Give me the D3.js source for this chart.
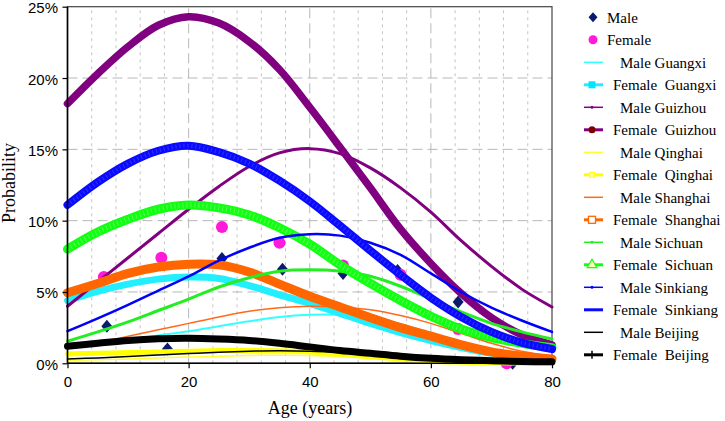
<!DOCTYPE html>
<html><head><meta charset="utf-8">
<script src="https://cdn.jsdelivr.net/npm/d3@7"></script>
<style>body{margin:0;background:#fff}svg{display:block}</style>
</head><body>
<svg id="c" width="725" height="421"></svg>
<script>
const ages = [0,5,10,15,20,25,30,35,40,45,50,55,60,65,70,75,80];
const maleGuangxi    = [1.1,1.35,1.65,1.95,2.25,2.6,2.95,3.25,3.4,3.4,3.2,2.75,2.1,1.5,0.95,0.55,0.3];
const femaleGuangxi  = [4.4,5.05,5.55,5.9,6.05,5.95,5.45,4.8,4.2,3.5,2.8,2.15,1.6,1.1,0.7,0.45,0.3];
const maleGuizhou    = [4.0,5.7,7.4,9.1,10.8,12.4,13.8,14.75,15.05,14.7,13.7,12.3,10.6,8.6,6.8,5.2,3.95];
const femaleGuizhou  = [18.2,20.3,22.2,23.7,24.3,23.85,22.55,20.6,17.95,15.15,12.3,9.4,7.0,4.9,3.2,2.0,1.3];
const maleQinghai    = [0.2,0.25,0.3,0.38,0.45,0.5,0.55,0.56,0.55,0.48,0.4,0.3,0.2,0.13,0.08,0.04,0.02];
const femaleQinghai  = [0.65,0.7,0.75,0.8,0.85,0.9,0.9,0.88,0.8,0.65,0.45,0.3,0.15,0.08,0.04,0.02,0.01];
const maleShanghai   = [1.1,1.45,1.9,2.35,2.8,3.25,3.65,3.9,4.0,3.95,3.75,3.35,2.8,2.1,1.4,0.85,0.5];
const femaleShanghai = [4.95,5.6,6.3,6.75,6.95,6.9,6.4,5.55,4.7,3.95,3.2,2.5,1.9,1.3,0.8,0.5,0.3];
const maleSichuan    = [1.55,2.2,2.9,3.7,4.5,5.35,6.0,6.45,6.55,6.45,6.1,5.4,4.5,3.6,2.8,2.2,1.7];
const femaleSichuan  = [8.0,9.2,10.1,10.8,11.1,10.9,10.4,9.5,8.35,6.9,5.6,4.4,3.3,2.4,1.8,1.4,1.1];
const maleSinkiang   = [2.25,3.15,4.1,5.1,6.1,7.2,8.1,8.8,9.05,8.95,8.45,7.6,6.3,5.0,3.9,3.0,2.2];
const femaleSinkiang = [11.1,12.7,14.0,14.9,15.25,14.8,14.0,12.8,11.35,9.65,7.9,6.2,4.6,3.25,2.2,1.45,1.0];
const maleBeijing    = [0.3,0.38,0.48,0.58,0.68,0.78,0.85,0.88,0.85,0.75,0.58,0.4,0.25,0.15,0.08,0.04,0.02];
const femaleBeijing  = [1.2,1.4,1.6,1.72,1.75,1.7,1.6,1.4,1.15,0.9,0.7,0.5,0.35,0.25,0.18,0.12,0.1];

const maleAges     = [6.5,16.5,25.5,35.5,45.5,54.5,64.5,73.5];
const maleValues   = [2.6,1.0,7.35,6.6,6.3,6.5,4.3,0.0];
const femaleAges   = [6,15.5,25.5,35,45.5,55,64.5,72.5];
const femaleValues = [6.05,7.4,9.55,8.45,6.85,6.2,2.4,0.0];

const xTicks = [0,20,40,60,80];
const yTicks = [0,5,10,15,20,25];
const legendNames = ["Male","Female","Male Guangxi","Female  Guangxi","Male Guizhou","Female  Guizhou",
  "Male Qinghai","Female  Qinghai","Male Shanghai","Female  Shanghai","Male Sichuan","Female  Sichuan",
  "Male Sinkiang","Female  Sinkiang","Male Beijing","Female  Beijing"];

const series = [
  {name:"Male Guangxi", v:maleGuangxi, color:"#33ffff", w:2},
  {name:"Female  Guangxi", v:femaleGuangxi, color:"#22eeff", w:7, marker:"square", mfill:"#00e5ff"},
  {name:"Male Guizhou", v:maleGuizhou, color:"#800080", w:3, marker:"dot"},
  {name:"Female  Guizhou", v:femaleGuizhou, color:"#800080", w:7.5, marker:"circle", mfill:"#800000"},
  {name:"Male Qinghai", v:maleQinghai, color:"#ffff33", w:1.5},
  {name:"Female  Qinghai", v:femaleQinghai, color:"#ffff00", w:5, marker:"smallsq", mfill:"#ffff99"},
  {name:"Male Shanghai", v:maleShanghai, color:"#ff6a1a", w:1.5},
  {name:"Female  Shanghai", v:femaleShanghai, color:"#ff6600", w:9, marker:"opensq"},
  {name:"Male Sichuan", v:maleSichuan, color:"#22ee22", w:3, marker:"dot"},
  {name:"Female  Sichuan", v:femaleSichuan, color:"#11ff11", w:9, marker:"triangle", tex:"#88ff88"},
  {name:"Male Sinkiang", v:maleSinkiang, color:"#0000ff", w:2.5, marker:"dot"},
  {name:"Female  Sinkiang", v:femaleSinkiang, color:"#0a0aff", w:8, marker:"x", tex:"#4d4dff"},
  {name:"Male Beijing", v:maleBeijing, color:"#000000", w:1.5},
  {name:"Female  Beijing", v:femaleBeijing, color:"#000000", w:7, marker:"plus"}
];

const svg = d3.select("#c");
const x = d3.scaleLinear().domain([0,80]).range([67.5,552]);
const y = d3.scaleLinear().domain([0,25]).range([363.3,6.7]);

// grid
const g = svg.append("g");
const minorX = d3.range(4,80,4).filter(d=>d%20!==0);
g.selectAll(".mx").data(minorX).enter().append("line")
  .attr("x1",d=>x(d)).attr("x2",d=>x(d)).attr("y1",y(0)).attr("y2",y(25))
  .attr("stroke","#c4c4c4").attr("stroke-width",1).attr("stroke-dasharray","3,4");
g.selectAll(".Mx").data([20,40,60]).enter().append("line")
  .attr("x1",d=>x(d)).attr("x2",d=>x(d)).attr("y1",y(0)).attr("y2",y(25))
  .attr("stroke","#b8b8b8").attr("stroke-width",1).attr("stroke-dasharray","10,5");
g.selectAll(".My").data([5,10,15,20]).enter().append("line")
  .attr("y1",d=>y(d)).attr("y2",d=>y(d)).attr("x1",x(0)).attr("x2",x(80))
  .attr("stroke","#b8b8b8").attr("stroke-width",1).attr("stroke-dasharray","10,5");

// frame
svg.append("rect").attr("x",x(0)).attr("y",y(25)).attr("width",x(80)-x(0)).attr("height",y(0)-y(25))
  .attr("fill","none").attr("stroke","#444").attr("stroke-width",1.2);

// scatter points (under lines)
const diamondPath = "M0,-6.5L5.5,0L0,6.5L-5.5,0Z";
svg.append("g").selectAll("path").data(maleAges.map((a,i)=>[a,maleValues[i]])).enter().append("path")
  .attr("d",diamondPath).attr("transform",d=>`translate(${x(d[0])},${y(d[1])})`)
  .attr("fill","#0a1a6e");
svg.append("g").selectAll("circle").data(femaleAges.map((a,i)=>[a,femaleValues[i]])).enter().append("circle")
  .attr("cx",d=>x(d[0])).attr("cy",d=>y(d[1])).attr("r",6).attr("fill","#ff1ad9");

// curves
const line = d3.line().x((d,i)=>x(ages[i])).y(d=>y(d)).curve(d3.curveCatmullRom.alpha(0.5));
const lg = svg.append("g").attr("fill","none").attr("stroke-linecap","round").attr("stroke-linejoin","round");
series.forEach(s=>{
  lg.append("path").attr("d",line(s.v)).attr("stroke",s.color).attr("stroke-width",s.w);
  if(s.tex){
    lg.append("path").attr("d",line(s.v)).attr("stroke",s.tex).attr("stroke-width",s.w-4)
      .attr("stroke-dasharray","1,3").attr("stroke-linecap","butt").attr("opacity",0.6);
  }
});

// axes
const yAxis = d3.axisLeft(y).tickValues(yTicks).tickFormat(d=>d+"%").tickSize(5).tickPadding(4.5);
const ya = svg.append("g").attr("transform",`translate(${x(0)},0)`).call(yAxis);
const xAxis = d3.axisBottom(x).tickValues(xTicks).tickSize(5).tickPadding(8);
const xa = svg.append("g").attr("transform",`translate(0,${y(0)})`).call(xAxis);
[ya,xa].forEach(a=>{
  a.select(".domain").attr("stroke","#000").attr("stroke-width",1.6);
  a.selectAll(".tick line").attr("stroke","#000").attr("stroke-width",1.2);
  a.selectAll("text").attr("font-family","Liberation Sans, Arial, sans-serif").attr("font-size",15).attr("fill","#000");
});
ya.selectAll(".tick text").attr("dy","0.4em");
ya.select(".domain").attr("d",`M-0,${y(0)}V${y(25)}`);
xa.select(".domain").attr("d",`M${x(0)},0H${x(80)}`);

// titles
svg.append("text").attr("x",310).attr("y",414).attr("text-anchor","middle")
  .attr("font-family","Liberation Serif, Times New Roman, serif").attr("font-size",18).text("Age (years)");
svg.append("text").attr("transform","translate(15,183) rotate(-90)").attr("text-anchor","middle")
  .attr("font-family","Liberation Serif, Times New Roman, serif").attr("font-size",18).text("Probability");

// legend
const leg = svg.append("g");
legendNames.forEach((name,i)=>{
  const cy = 17.3 + i*22.5;
  const gi = leg.append("g").attr("transform",`translate(0,${cy})`);
  const isMaleFemale = i<2;
  const female = name.startsWith("Female");
  if(!isMaleFemale){
    const s = series.find(q=>q.name===name);
    gi.append("line").attr("x1",584).attr("x2",603).attr("y1",0).attr("y2",0)
      .attr("stroke",s.color).attr("stroke-width",female?3:1.5);
    const mx = 592;
    if(s.marker==="square") gi.append("rect").attr("x",mx-3.5).attr("y",-3.5).attr("width",7).attr("height",7).attr("fill",s.mfill);
    if(s.marker==="circle") gi.append("circle").attr("cx",mx).attr("cy",0).attr("r",3.5).attr("fill",s.mfill);
    if(s.marker==="dot") gi.append("circle").attr("cx",mx).attr("cy",0).attr("r",1.5).attr("fill",s.color);
    if(s.marker==="smallsq") gi.append("rect").attr("x",mx-2.5).attr("y",-2.5).attr("width",5).attr("height",5).attr("fill",s.mfill).attr("stroke","#ffff00");
    if(s.marker==="opensq") gi.append("rect").attr("x",mx-3.5).attr("y",-3.5).attr("width",7).attr("height",7).attr("fill","#fff").attr("stroke",s.color).attr("stroke-width",1.3);
    if(s.marker==="triangle") gi.append("path").attr("d",d3.symbol().type(d3.symbolTriangle).size(40)()).attr("transform",`translate(${mx},0)`).attr("fill","#ffffb0").attr("stroke",s.color).attr("stroke-width",1.2);
    if(s.marker==="x") gi.append("path").attr("d",d3.symbol().type(d3.symbolTimes).size(40)()).attr("transform",`translate(${mx},0)`).attr("fill","#6a6aff");
    if(s.marker==="plus") gi.append("path").attr("d",`M${mx-4},0H${mx+4}M${mx},-4V4`).attr("stroke","#000").attr("stroke-width",1.5);
  } else if(i===0){
    gi.append("path").attr("d","M0,-5L4.5,0L0,5L-4.5,0Z").attr("transform","translate(593,0)").attr("fill","#0a1a6e");
  } else {
    gi.append("circle").attr("cx",593).attr("cy",0).attr("r",4.5).attr("fill","#ff1ad9");
  }
  gi.append("text").attr("x",isMaleFemale?607:(female?613:620)).attr("y",0).attr("dy","0.35em")
    .attr("font-family","Liberation Serif, Times New Roman, serif").attr("font-size",15)
    .attr("xml:space","preserve").style("white-space","pre").text(name);
});
</script>
</body></html>
